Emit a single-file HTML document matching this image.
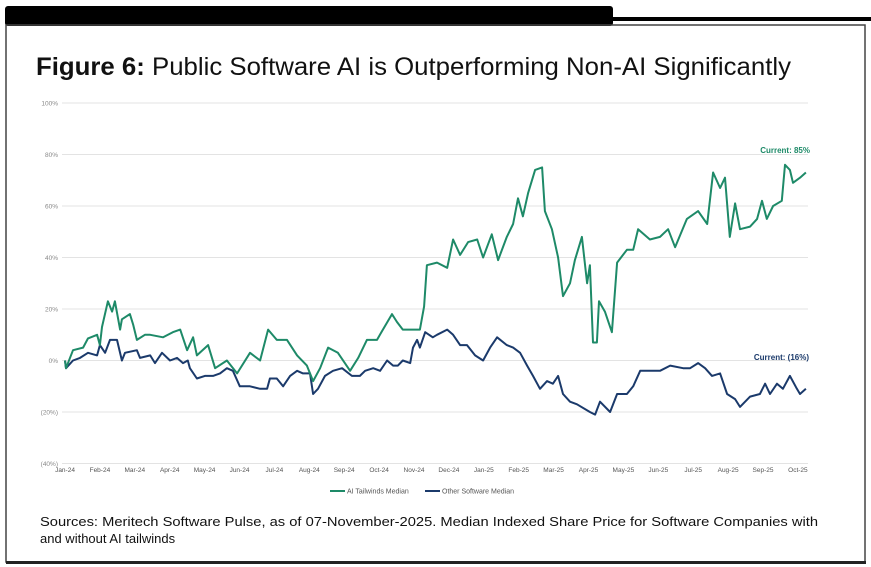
<!DOCTYPE html>
<html><head><meta charset="utf-8"><style>
html,body{margin:0;padding:0;background:#fff;width:871px;height:567px;overflow:hidden}
svg{display:block;font-family:"Liberation Sans",sans-serif}
</style></head><body>
<svg id="chart" width="871" height="567" viewBox="0 0 871 567">
  <rect x="0" y="0" width="871" height="567" fill="#fff"/>
  <rect x="612" y="17" width="259" height="4" fill="#000"/>
  <rect x="5" y="6" width="608" height="20" rx="3" fill="#000"/>
  <rect x="6" y="25" width="859" height="537" fill="none" stroke="#444" stroke-width="1.5"/>
  <rect x="6" y="561" width="860" height="3" fill="#222"/>
  <text x="36" y="75" font-size="25" textLength="755" lengthAdjust="spacingAndGlyphs" fill="#111"><tspan font-weight="bold">Figure 6:</tspan> Public Software AI is Outperforming Non-AI Significantly</text>
  <g id="grid"></g>
  <g id="xlabels"></g>
  <g id="series"></g>
  <text x="810" y="153" font-size="8" font-weight="bold" fill="#1e8a68" text-anchor="end">Current: 85%</text>
  <text x="809" y="360" font-size="8" font-weight="bold" fill="#1b3a6b" text-anchor="end">Current: (16%)</text>
  <g>
    <line x1="330" y1="491" x2="345" y2="491" stroke="#1e8a68" stroke-width="2"/>
    <text x="347" y="493.5" font-size="7" fill="#555">AI Tailwinds Median</text>
    <line x1="425" y1="491" x2="440" y2="491" stroke="#1b3a6b" stroke-width="2"/>
    <text x="442" y="493.5" font-size="7" fill="#555">Other Software Median</text>
  </g>
  <text x="40" y="526" font-size="13" fill="#111" textLength="778" lengthAdjust="spacingAndGlyphs">Sources: Meritech Software Pulse, as of 07-November-2025. Median Indexed Share Price for Software Companies with</text>
  <text x="40" y="543" font-size="13" fill="#111">and without AI tailwinds</text>
</svg>
<script>
const yTicks=[100,80,60,40,20,0,-20,-40];
const yTickLabels=["100%","80%","60%","40%","20%","0%","(20%)","(40%)"];
const months=["Jan-24","Feb-24","Mar-24","Apr-24","May-24","Jun-24","Jul-24","Aug-24","Sep-24","Oct-24","Nov-24","Dec-24","Jan-25","Feb-25","Mar-25","Apr-25","May-25","Jun-25","Jul-25","Aug-25","Sep-25","Oct-25"];
const aiT=[0,.03,.23,.52,.66,.92,1.0,1.06,1.23,1.35,1.43,1.58,1.63,1.86,1.95,2.06,2.29,2.44,2.81,3.09,3.30,3.50,3.67,3.78,4.10,4.30,4.64,4.93,5.30,5.59,5.82,6.07,6.36,6.65,6.93,7.11,7.31,7.54,7.82,8.17,8.40,8.65,8.94,9.11,9.37,9.51,9.68,9.97,10.17,10.29,10.37,10.66,10.95,11.12,11.32,11.55,11.81,11.98,12.23,12.41,12.66,12.84,12.98,13.12,13.27,13.47,13.67,13.75,13.95,14.13,14.27,14.47,14.61,14.81,14.96,15.04,15.13,15.24,15.30,15.47,15.67,15.82,16.10,16.28,16.42,16.76,17.05,17.28,17.48,17.82,18.14,18.40,18.57,18.77,18.91,19.05,19.20,19.34,19.63,19.83,19.97,20.11,20.29,20.54,20.63,20.77,20.86,21.06,21.23];
const aiValues=[0,-3,4,5,8.6,10,6,13,23,19,23,12,16,18,14,8,10,10,9,11,12,4,9,2,6,-3,0,-5,3,0,12,8,8,2,-2,-8,-3,5,3,-4,1,8,8,12,18,15,12,12,12,21,37,38,36,47,41,46,47,40,49,39,48,53,63,56,65,74,75,58,51,40,25,30,39,48,30,37,7,7,23,19,11,38,43,43,51,47,48,51,44,55,58,53,73,67,71,48,61,51,52,55,62,55,60,62,76,74,69,71,73];
const otherT=[0,.03,.23,.43,.66,.92,1.0,1.15,1.29,1.49,1.63,1.72,2.06,2.15,2.44,2.58,2.78,3.01,3.21,3.38,3.52,3.58,3.78,4.01,4.24,4.44,4.64,4.81,5.01,5.30,5.59,5.79,5.87,6.07,6.25,6.45,6.65,6.82,7.02,7.11,7.25,7.45,7.68,7.94,8.22,8.45,8.60,8.83,9.03,9.23,9.40,9.54,9.68,9.89,9.97,10.09,10.17,10.32,10.54,10.66,10.95,11.12,11.32,11.52,11.75,11.98,12.18,12.38,12.66,12.84,13.04,13.24,13.41,13.61,13.81,13.98,14.13,14.27,14.47,14.67,15.04,15.19,15.33,15.62,15.82,16.10,16.28,16.48,16.76,17.05,17.34,17.71,17.91,18.14,18.34,18.54,18.77,18.97,19.20,19.34,19.63,19.91,20.06,20.20,20.40,20.57,20.77,20.97,21.06,21.23];
const otherValues=[0,-3,0,1,3,2,6,3,8,8,0,3,4,1,2,-1,3,0,1,-1,0,-3,-7,-6,-6,-5,-3,-4,-10,-10,-11,-11,-7,-7,-10,-6,-4,-5,-5,-13,-11,-6,-4,-3,-6,-6,-4,-3,-4,0,-2,-2,0,-1,5,8,5,11,9,10,12,10,6,6,2,0,5,9,6,5,3,-2,-6,-11,-8,-9,-6,-13,-16,-17,-20,-21,-16,-20,-13,-13,-10,-4,-4,-4,-2,-3,-3,-1,-3,-6,-5,-13,-15,-18,-14,-13,-9,-13,-9,-11,-6,-11,-13,-11];

const NS="http://www.w3.org/2000/svg";
const X0=65,XW=34.9,Y0=360.5,YS=2.575;
const xs=t=>X0+t*XW;
const ys=v=>Y0-v*YS;
function mk(tag,attrs,parent){const e=document.createElementNS(NS,tag);for(const k in attrs)e.setAttribute(k,attrs[k]);parent.appendChild(e);return e;}
const grid=document.getElementById('grid');
yTicks.forEach((v,i)=>{
  const l=mk('line',{x1:62,x2:808,y1:ys(v),y2:ys(v),stroke:'#e3e3e3','stroke-width':1},grid);
  
  
  const t=mk('text',{x:58,y:ys(v)+2.5,'font-size':6.5,fill:'#888','text-anchor':'end'},grid);
  t.textContent=yTickLabels[i];
  
  
});
const xl=document.getElementById('xlabels');
months.forEach((m,i)=>{
  const t=mk('text',{x:xs(i),y:472,'font-size':6.5,fill:'#555','text-anchor':'middle'},xl);
  t.textContent=m;
  
  
});
const sg=document.getElementById('series');
function draw(T,V,color,name){
  const d=T.map((t,i)=>(i?'L':'M')+xs(t).toFixed(1)+' '+ys(V[i]).toFixed(1)).join(' ');
  const p=mk('path',{d:d,fill:'none',stroke:color,'stroke-width':2,'stroke-linejoin':'round'},sg);
  
  
}
draw(otherT,otherValues,'#1b3a6b','other-software-line');
draw(aiT,aiValues,'#1e8a68','ai-tailwinds-line');
</script>
</body></html>
